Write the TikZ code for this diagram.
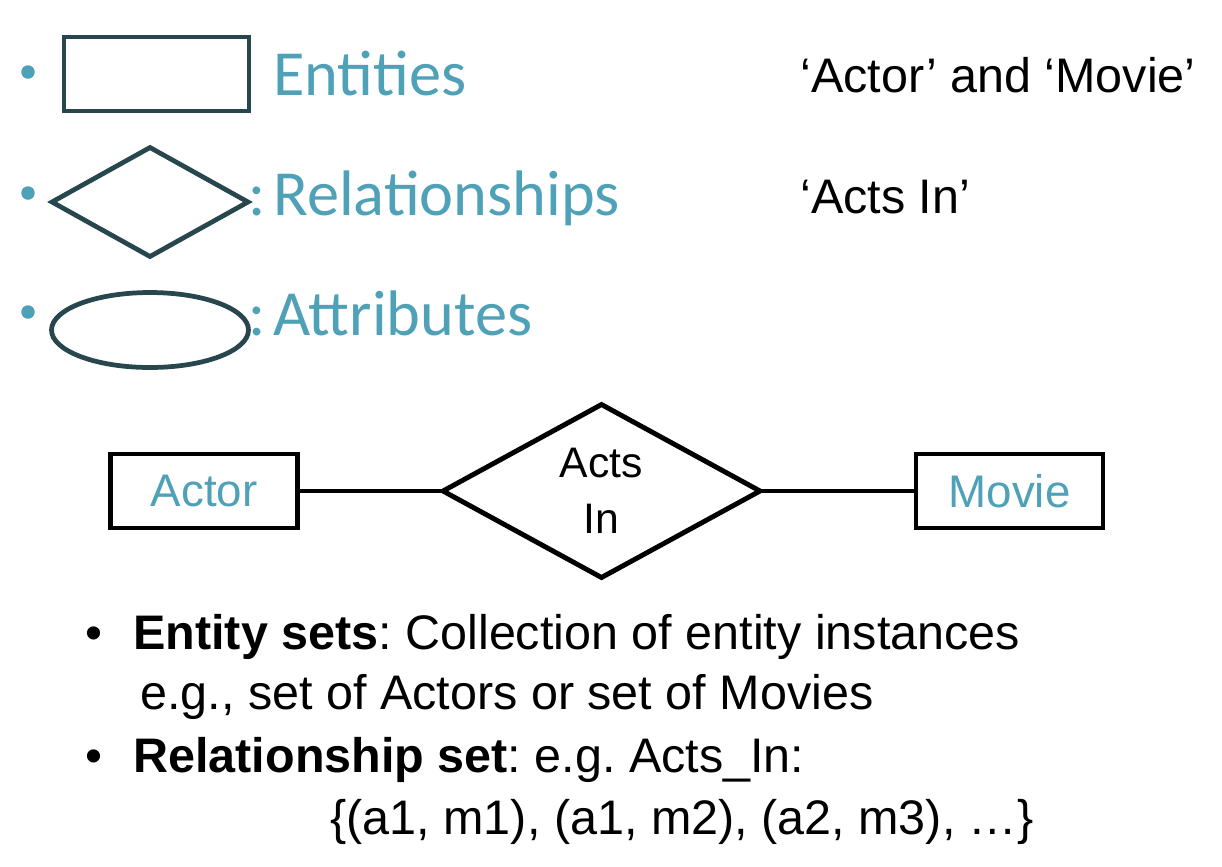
\documentclass[tikz,border=0pt]{standalone}
\usepackage{fontspec}
\setmainfont{Liberation Sans}
\newfontfamily\calibri{Carlito}
\usetikzlibrary{shapes.geometric}
\definecolor{teal1}{HTML}{4FA1B7}
\definecolor{darkteal}{HTML}{27464E}
\tikzset{
  legshape/.style={draw=darkteal, line width=2.7pt, inner sep=0pt, outer sep=0pt},
  legtext/.style={anchor=base west, inner sep=0pt, text=teal1, font=\calibri\fontsize{36.6}{42}\selectfont},
  dot/.style={circle, fill=teal1, inner sep=0pt, minimum size=0.27cm},
  plain/.style={anchor=base west, inner sep=0pt, font=\frenchspacing\fontsize{27.6}{33}\selectfont},
  erbox/.style={draw=black, line width=2.8pt, minimum width=3.74cm, minimum height=1.48cm, inner sep=0pt, outer sep=0pt, text=teal1, font=\fontsize{26}{31}\selectfont},
  erdia/.style={draw=black, line width=2.8pt, diamond, minimum width=6.34cm, minimum height=3.46cm, inner sep=0pt, outer sep=0pt, align=center, font=\fontsize{24.3}{31.7}\selectfont},
  link/.style={line width=2.8pt, black}
}
\begin{document}
\begin{tikzpicture}[x=0.02cm,y=-0.02cm]
\useasboundingbox (0,0) rectangle (1222,866);
\fill[white] (0,0) rectangle (1222,866);
% legend
\node[dot] (d1) at (28,72) {};
\node[dot] (d2) at (28,193) {};
\node[dot] (d3) at (28,312) {};
\node[legtext] (c2) at (248,215) {:};
\node[legtext] (c3) at (248,335) {:};
\node[legshape, rectangle, minimum width=3.7cm, minimum height=1.48cm] (lrect) at (156.5,74) {};
\node[legshape, diamond, minimum width=3.92cm, minimum height=2.18cm] (ldia) at (150,202) {};
\node[legshape, ellipse, minimum width=3.94cm, minimum height=1.5cm] (lell) at (150,330) {};
\node[legtext] (t1) at (273,95) {Entities};
\node[legtext] (t2) at (273,215) {Relationships};
\node[legtext] (t3) at (273,335) {Attributes};
\node[plain] (r1) at (800,92) {‘Actor’ and ‘Movie’};
\node[plain] (r2) at (800,213) {‘Acts In’};
% ER diagram
\node[erbox] (actor) at (204,491) {Actor};
\node[erdia] (acts) at (601.5,491) {Acts\\In};
\node[erbox] (movie) at (1009.5,491) {Movie};
\draw[link] (actor.east) -- (acts.west);
\draw[link] (acts.east) -- (movie.west);
% bullets
\node[plain] (b1) at (85,649) {•};
\node[plain] (l1) at (133,649) {\textbf{Entity sets}: Collection of entity instances};
\node[plain] (l2) at (140,709) {e.g., set of Actors or set of Movies};
\node[plain] (b2) at (85,772) {•};
\node[plain] (l3) at (133,772) {\textbf{Relationship set}: e.g. Acts\_In:};
\node[plain] (l4) at (330,834) {\{(a1, m1), (a1, m2), (a2, m3), …\}};
\end{tikzpicture}
\end{document}
